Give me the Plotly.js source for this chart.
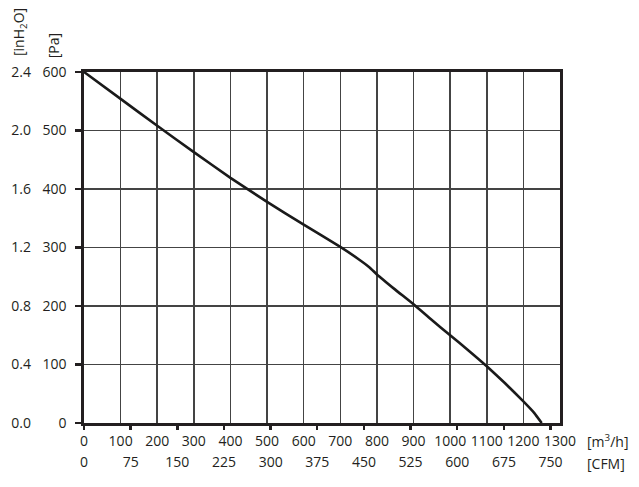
<!DOCTYPE html>
<html>
<head>
<meta charset="utf-8">
<script src="https://cdn.plot.ly/plotly-3.0.1.min.js"></script>
<style>html,body{margin:0;padding:0;background:#fff;}#chart{width:639px;height:487px;}</style>
</head>
<body>
<div id="chart"></div>
<script>
// Fan curve: airflow [m3/h] vs static pressure [Pa]
const flowM3h = [0, 100, 200, 300, 400, 500, 600, 700, 750, 780, 800, 850, 900, 950, 1000, 1050, 1100, 1150, 1200, 1230, 1250];
const pressurePa = [600, 554, 508, 463, 419, 378, 339, 301, 280, 266, 254, 228, 203, 176, 150, 124, 97, 68, 37, 17, 0];

const m3hTicks = [0,100,200,300,400,500,600,700,800,900,1000,1100,1200,1300];
const cfmTicks = [0,75,150,225,300,375,450,525,600,675,750];
const paTicks = [0,100,200,300,400,500,600];
const inH2OTicks = [0,0.4,0.8,1.2,1.6,2.0,2.4];
const inH2OLabels = ["0.0","0.4","0.8","1.2","1.6","2.0","2.4"];

const M3H_PER_CFM = 1.699;
const ink = '#231f20';
const fontFam = 'Open Sans, Noto Sans, sans-serif';
const tickFont = {family: fontFam, size: 14, color: ink};

const trace = {
  x: flowM3h, y: pressurePa, type: 'scatter', mode: 'lines',
  line: {color: '#1a1a1a', width: 2.6, shape: 'spline', smoothing: 0.4},
  xaxis: 'x', yaxis: 'y', hoverinfo: 'skip', showlegend: false
};

const layout = {
  width: 639, height: 487,
  margin: {l: 84, r: 79, t: 72, b: 64},
  paper_bgcolor: '#fff', plot_bgcolor: '#fff',
  showlegend: false,
  xaxis: {
    range: [0, 1300], tickvals: m3hTicks, ticktext: m3hTicks.map(String),
    ticks: '', showgrid: true, gridcolor: '#444444', gridwidth: 1.5,
    zeroline: false, showline: true, linecolor: ink, linewidth: 2.6, mirror: true,
    tickfont: tickFont, ticklabelstandoff: 4, fixedrange: true
  },
  xaxis2: {
    overlaying: 'x', anchor: 'y', side: 'bottom',
    range: [0, 1300 / M3H_PER_CFM], tickvals: cfmTicks, ticktext: cfmTicks.map(String),
    ticks: 'outside', ticklen: 6, tickwidth: 2.4, tickcolor: ink,
    showgrid: false, zeroline: false, showline: false,
    tickfont: tickFont, ticklabelstandoff: 20, fixedrange: true
  },
  yaxis: {
    range: [0, 600], tickvals: paTicks, ticktext: paTicks.map(String),
    ticks: 'outside', ticklen: 6, tickwidth: 2.4, tickcolor: ink,
    showgrid: true, gridcolor: '#444444', gridwidth: 1.5,
    zeroline: false, showline: true, linecolor: ink, linewidth: 2.6, mirror: true,
    tickfont: tickFont, ticklabelstandoff: 6, fixedrange: true
  },
  yaxis2: {
    overlaying: 'y', anchor: 'x', side: 'left',
    range: [0, 2.4], tickvals: inH2OTicks, ticktext: inH2OLabels,
    ticks: '', showgrid: false, zeroline: false, showline: false,
    tickfont: tickFont, ticklabelstandoff: 52, fixedrange: true
  },
  annotations: [
    {text: '[inH<sub>2</sub>O]', xref: 'paper', yref: 'paper', x: -0.1355, y: 1.1125,
     xanchor: 'center', yanchor: 'middle', textangle: -90, showarrow: false, font: tickFont},
    {text: '[Pa]', xref: 'paper', yref: 'paper', x: -0.0645, y: 1.074,
     xanchor: 'center', yanchor: 'middle', textangle: -90, showarrow: false, font: tickFont},
    {text: '[m<sup>3</sup>/h]', xref: 'paper', yref: 'paper', x: 1.0525, y: -0.0513,
     xanchor: 'left', yanchor: 'middle', showarrow: false, font: tickFont},
    {text: '[CFM]', xref: 'paper', yref: 'paper', x: 1.0525, y: -0.114,
     xanchor: 'left', yanchor: 'middle', showarrow: false, font: tickFont}
  ]
};

// invisible traces that activate the secondary (CFM / inH2O) axes
const dummyX2 = {x: [0], y: [0], xaxis: 'x2', yaxis: 'y', mode: 'markers', marker: {opacity: 0}, hoverinfo: 'skip', showlegend: false};
const dummyY2 = {x: [0], y: [0], xaxis: 'x', yaxis: 'y2', mode: 'markers', marker: {opacity: 0}, hoverinfo: 'skip', showlegend: false};

Plotly.newPlot('chart', [trace, dummyX2, dummyY2], layout, {displayModeBar: false, staticPlot: true});
</script>
</body>
</html>
